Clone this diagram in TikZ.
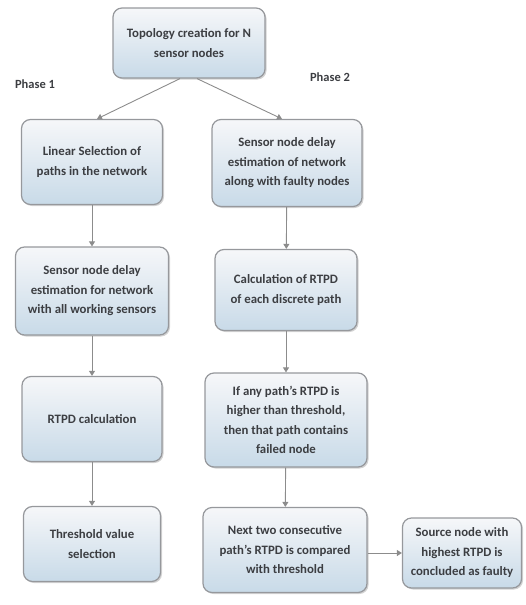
\documentclass[tikz,border=0pt]{standalone}
\usepackage{fontspec}
\setmainfont{Carlito}
\usepackage{xcolor}
\usepackage{tikz}
\usetikzlibrary{arrows.meta, positioning, shadows}

\definecolor{boxline}{RGB}{150,152,156}
\definecolor{boxtop}{RGB}{246,247,249}
\definecolor{boxbottom}{RGB}{200,218,232}
\definecolor{boxtext}{RGB}{60,62,66}
\definecolor{flowline}{RGB}{140,140,140}

\begin{document}
\begin{tikzpicture}[
  x=1pt, y=-1pt,
  stage/.style={rectangle,draw=boxline,line width=1.2pt,rounded corners=9pt,align=center,
    top color=boxtop,bottom color=boxbottom,text=boxtext,
    font=\fontsize{12.8}{19.5}\selectfont\bfseries,
    drop shadow={opacity=0.35,shadow xshift=1.5pt,shadow yshift=-1.5pt}},
  phase/.style={text=boxtext,font=\fontsize{12.5}{14}\selectfont\bfseries},
  flow/.style={draw=flowline,line width=0.9pt,-{Triangle[width=6pt,length=5pt]}}
]
\useasboundingbox (0,0) rectangle (525,605);

\node[stage,minimum width=152pt,minimum height=70pt] (topo) at (189,43) {Topology creation for N\\sensor nodes};
\node[phase] (phaseone) at (35,84) {Phase 1};
\node[phase] (phasetwo) at (330,77) {Phase 2};

% phase 1
\node[stage,minimum width=141pt,minimum height=85pt] (linsel) at (92,162) {Linear Selection of\\paths in the network};
\node[stage,minimum width=153pt,minimum height=88pt] (estwork) at (92,291) {Sensor node delay\\estimation for network\\with all working sensors};
\node[stage,minimum width=140pt,minimum height=85pt] (rtpdcalc) at (92,419) {RTPD calculation};
\node[stage,minimum width=137pt,minimum height=75pt] (thresh) at (92,544) {Threshold value\\selection};

% phase 2
\node[stage,minimum width=150pt,minimum height=87pt] (estfault) at (287,163) {Sensor node delay\\estimation of network\\along with faulty nodes};
\node[stage,minimum width=142pt,minimum height=81pt] (rtpdpath) at (286,290) {Calculation of RTPD\\of each discrete path};
\node[stage,minimum width=162pt,minimum height=94pt] (higher) at (286,420) {If any path's RTPD is\\higher than threshold,\\then that path contains\\failed node};
\node[stage,minimum width=164pt,minimum height=85pt] (compare) at (285,550) {Next two consecutive\\path's RTPD is compared\\with threshold};
\node[stage,minimum width=119pt,minimum height=70pt,inner xsep=1pt] (source) at (462,553) {Source node with\\highest RTPD is\\concluded as faulty};

\draw[flow] ([xshift=-9pt]topo.south) -- ([xshift=5pt]linsel.north);
\draw[flow] ([xshift=8pt]topo.south) -- ([xshift=-5pt]estfault.north);
\draw[flow] (linsel) -- (estwork);
\draw[flow] (estwork) -- (rtpdcalc);
\draw[flow] (rtpdcalc) -- (thresh);
\draw[flow] (estfault) -- (rtpdpath);
\draw[flow] (rtpdpath) -- (higher);
\draw[flow] (higher) -- (compare);
\draw[flow] (compare.east |- source) -- (source);

\end{tikzpicture}
\end{document}
